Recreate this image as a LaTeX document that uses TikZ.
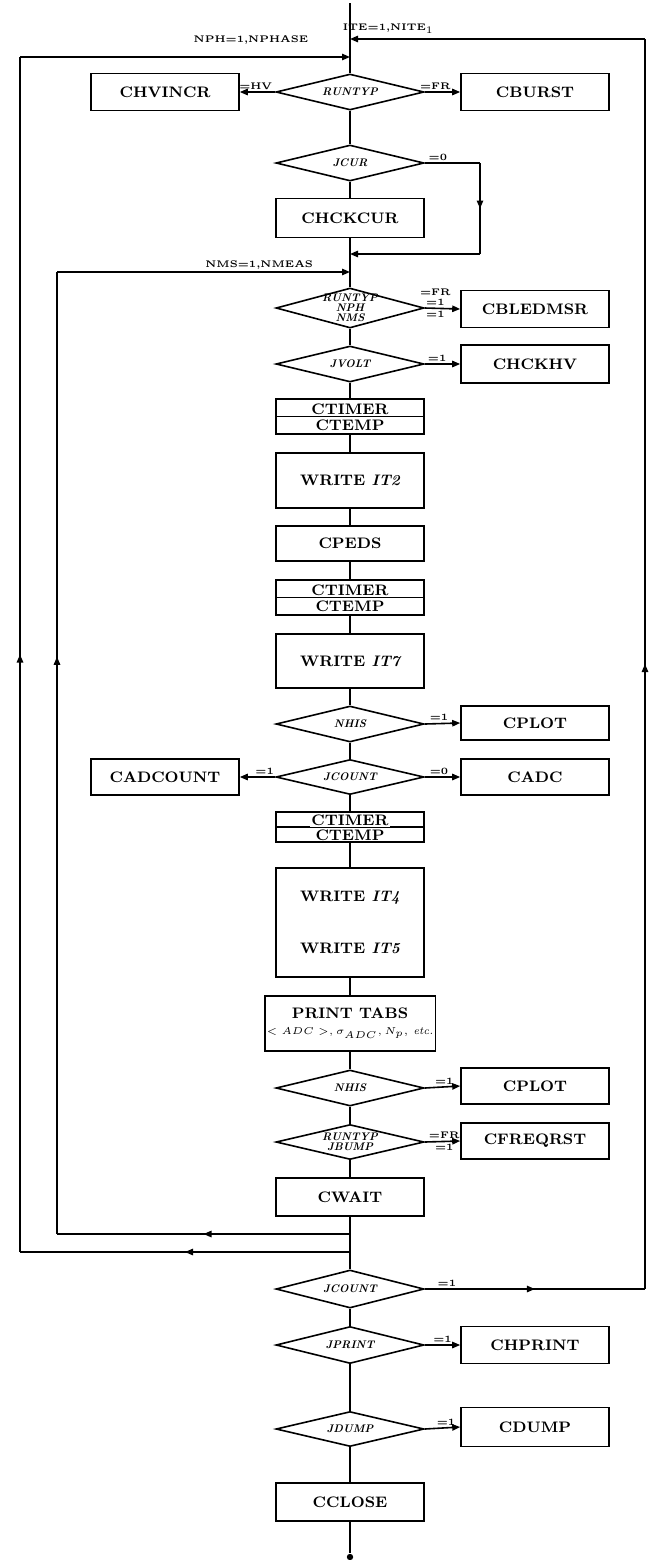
\documentclass[tikz,border=0pt]{standalone}
\usepackage{fontspec}
\usetikzlibrary{shapes.geometric,arrows.meta,decorations.markings}

\tikzset{
    box/.style={draw, rectangle, minimum width=74pt, minimum height=18.5pt, inner sep=1pt,
        align=center, font={\fontsize{7.6}{9}\selectfont\bfseries}},
    decision/.style={draw, diamond, minimum width=74pt, minimum height=18pt, inner sep=0pt,
        label={[dtext]center:#1}},
    dtext/.style={align=center, inner sep=0pt, font={\fontsize{5.5}{5}\selectfont\bfseries\itshape}},
    lbl/.style={inner sep=1pt, font={\fontsize{4.8}{5}\selectfont\bfseries}},
    cover/.style={fill=white, inner sep=0.6pt, font={\fontsize{7.6}{9}\selectfont\bfseries}},
    tip/.style={-{Triangle[length=4pt,width=3.2pt]}},
    midarrow/.style={postaction={decorate}, decoration={markings,
        mark=at position #1 with {\arrow{Triangle[length=4pt,width=3.2pt]}}}},
    midarrow/.default=0.5,
}

\begin{document}
\begin{tikzpicture}[x=0.5pt, y=-0.5pt, line width=0.8pt]
    \useasboundingbox (0,0) rectangle (654,1560);
    \def\cx{350}

    % outer loops enter here
    \coordinate (top) at (\cx,3);
    \coordinate (iteJ) at (\cx,39);
    \coordinate (nphJ) at (\cx,57);

    \node[decision=RUNTYP] (rtA) at (\cx,92) {};
    \node[box] (chv) at (165,92) {CHVINCR};
    \node[box] (cbu) at (535,92) {CBURST};
    \node[decision=JCUR] (jcur) at (\cx,163) {};
    \node[box, minimum height=19.5pt] (chk) at (\cx,218) {CHCKCUR};
    \coordinate (byA) at (480,163);
    \coordinate (byB) at (480,254);
    \coordinate (byJ) at (\cx,254);
    \coordinate (nmsJ) at (\cx,272);

    \node[decision={RUNTYP\\NPH\\NMS}, minimum height=20pt] (rtB) at (\cx,308) {};
    \node[box] (cbl) at (535,309) {CBLEDMSR};
    \node[decision=JVOLT] (jvo) at (\cx,364) {};
    \node[box, minimum height=19pt] (chh) at (535,364) {CHCKHV};

    % timer boxes: the word on top sits on the divider
    \node[box, minimum height=17.5pt] (tmA) at (\cx,416.5) {};
    \draw (tmA.west) -- (tmA.east);
    \node[cover] (tmAa) at ([yshift=3.6pt]tmA.center) {CTIMER};
    \node[cover, fill=none] (tmAb) at ([yshift=-4.3pt]tmA.center) {CTEMP};

    \node[box, minimum height=27.5pt] (wr2) at (\cx,480.5) {WRITE {\itshape IT2}};
    \node[box, minimum height=17.5pt] (ped) at (\cx,543.5) {CPEDS};

    \node[box, minimum height=17.5pt] (tmB) at (\cx,597.5) {};
    \draw (tmB.west) -- (tmB.east);
    \node[cover] (tmBa) at ([yshift=3.6pt]tmB.center) {CTIMER};
    \node[cover, fill=none] (tmBb) at ([yshift=-4.3pt]tmB.center) {CTEMP};

    \node[box, minimum height=27pt] (wr7) at (\cx,661) {WRITE {\itshape IT7}};
    \node[decision=NHIS] (nhA) at (\cx,724) {};
    \node[box, minimum height=17pt] (cplA) at (535,723) {CPLOT};
    \node[decision=JCOUNT, minimum height=17.5pt] (jcA) at (\cx,777) {};
    \node[box, minimum height=18pt] (cadn) at (165,777) {CADCOUNT};
    \node[box, minimum height=18pt] (cadc) at (535,777) {CADC};

    \node[box, minimum height=15pt] (tmC) at (\cx,827) {};
    \draw (tmC.west) -- (tmC.east);
    \node[cover] (tmCa) at ([yshift=3.2pt]tmC.center) {CTIMER};
    \node[cover, fill=none] (tmCb) at ([yshift=-4pt]tmC.center) {CTEMP};

    \node[box, minimum height=54.5pt] (wr45) at (\cx,922.5) {WRITE {\itshape IT4}\\[17pt]WRITE {\itshape IT5}};
    \node[box, minimum height=27.5pt] (tabs) at (\cx,1023.5)
        {PRINT TABS\\[-1pt]{\fontsize{5.4}{6}\selectfont\mdseries $<ADC>,\sigma_{ADC},N_p$, \textit{etc.}}};
    \node[decision=NHIS] (nhB) at (\cx,1088) {};
    \node[box, minimum height=18pt] (cplB) at (535,1086) {CPLOT};
    \node[decision={RUNTYP\\JBUMP}, minimum height=17.5pt] (rtC) at (\cx,1142) {};
    \node[box, minimum height=18pt] (cfr) at (535,1141) {CFREQRST};
    \node[box, minimum height=19pt] (cwa) at (\cx,1197) {CWAIT};
    \coordinate (cwJ1) at (\cx,1234);
    \coordinate (cwJ2) at (\cx,1252);

    \node[decision=JCOUNT, minimum height=19pt] (jcB) at (\cx,1289) {};
    \node[decision=JPRINT, minimum height=18.5pt] (jpr) at (\cx,1345) {};
    \node[box] (chp) at (535,1345) {CHPRINT};
    \node[decision=JDUMP, minimum height=17.5pt] (jdu) at (\cx,1429) {};
    \node[box, minimum height=19.5pt] (cdu) at (535,1427) {CDUMP};
    \node[box, minimum height=19pt] (ccl) at (\cx,1502) {CCLOSE};
    \node[circle, fill, inner sep=0pt, minimum size=3.2pt] (stop) at (\cx,1557) {};

    % loop corners
    \coordinate (inA) at (57,1234);
    \coordinate (inB) at (57,272);
    \coordinate (outA) at (20,1252);
    \coordinate (outB) at (20,57);
    \coordinate (rA) at (645,1289);
    \coordinate (rB) at (645,39);

    % main column
    \draw (top) -- (rtA.north);
    \draw (rtA.south) -- (jcur.north);
    \draw (jcur.south) -- (chk.north);
    \draw (chk.south) -- (rtB.north);
    \draw (rtB.south) -- (jvo.north);
    \draw (jvo.south) -- (tmA.north);
    \draw (tmA.south) -- (wr2.north);
    \draw (wr2.south) -- (ped.north);
    \draw (ped.south) -- (tmB.north);
    \draw (tmB.south) -- (wr7.north);
    \draw (wr7.south) -- (nhA.north);
    \draw (nhA.south) -- (jcA.north);
    \draw (jcA.south) -- (tmC.north);
    \draw (tmC.south) -- (wr45.north);
    \draw (wr45.south) -- (tabs.north);
    \draw (tabs.south) -- (nhB.north);
    \draw (nhB.south) -- (rtC.north);
    \draw (rtC.south) -- (cwa.north);
    \draw (cwa.south) -- (jcB.north);
    \draw (jcB.south) -- (jpr.north);
    \draw (jpr.south) -- (jdu.north);
    \draw (jdu.south) -- (ccl.north);
    \draw (ccl.south) -- (stop);

    % side branches
    \draw[tip] (rtA.west) -- (chv.east) node[lbl, above, pos=0.55] (lHV) {=HV};
    \draw[tip] (rtA.east) -- (cbu.west) node[lbl, above, pos=0.3] (lFRa) {=FR};
    \draw (jcur.east) -- (byA) node[lbl, above right, pos=0.02] (lZero) {=0};
    \draw[midarrow] (byA) -- (byB);
    \draw[tip] (byB) -- (byJ);
    \draw[tip] (rtB.east) -- (cbl.west)
        node[lbl, above, pos=0.3, yshift=5pt] (lFRb) {=FR}
        node[lbl, above, pos=0.3] (lOneA) {=1}
        node[lbl, below, pos=0.3] (lOneB) {=1};
    \draw[tip] (jvo.east) -- (chh.west) node[lbl, above, pos=0.35] (lOneC) {=1};
    \draw[tip] (nhA.east) -- (cplA.west) node[lbl, above, pos=0.4] (lOneD) {=1};
    \draw[tip] (jcA.west) -- (cadn.east) node[lbl, above, pos=0.3] (lOneE) {=1};
    \draw[tip] (jcA.east) -- (cadc.west) node[lbl, above, pos=0.4] (lZeroB) {=0};
    \draw[tip] (nhB.east) -- (cplB.west) node[lbl, above, pos=0.55] (lOneF) {=1};
    \draw[tip] (rtC.east) -- (cfr.west)
        node[lbl, above, pos=0.55] (lFRc) {=FR}
        node[lbl, below, pos=0.55] (lOneG) {=1};
    \draw[tip] (jpr.east) -- (chp.west) node[lbl, above, pos=0.5] (lOneH) {=1};
    \draw[tip] (jdu.east) -- (cdu.west) node[lbl, above, pos=0.6] (lOneI) {=1};

    % loops back up
    \draw[midarrow] (cwJ1) -- (inA);
    \draw[midarrow=0.6] (inA) -- (inB);
    \draw[tip] (inB) -- (nmsJ) node[lbl, above, pos=0.69] (lNms) {NMS=1,NMEAS};
    \draw[midarrow] (cwJ2) -- (outA);
    \draw[midarrow] (outA) -- (outB);
    \draw[tip] (outB) -- (nphJ) node[lbl, above, pos=0.7, yshift=5pt] (lNph) {NPH=1,NPHASE};
    \draw[midarrow] (jcB.east) -- (rA) node[lbl, above, pos=0.1] (lOneJ) {=1};
    \draw[midarrow] (rA) -- (rB);
    \draw[tip] (rB) -- (iteJ) node[lbl, above, pos=0.87, yshift=1.5pt] (lIte) {ITE=1,NITE$_1$};
\end{tikzpicture}
\end{document}
